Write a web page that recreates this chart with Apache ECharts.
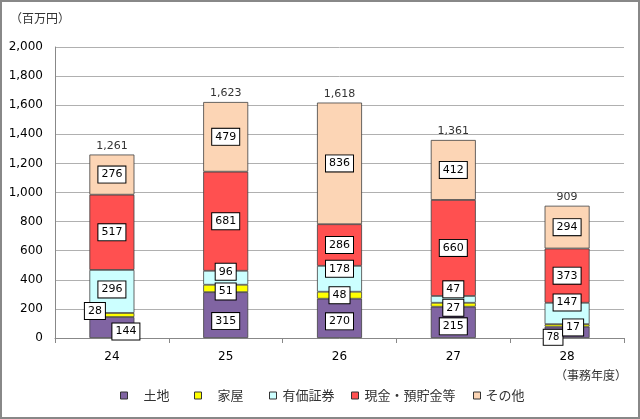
<!DOCTYPE html>
<html><head><meta charset="utf-8">
<script src="https://cdn.jsdelivr.net/npm/echarts@6/dist/echarts.min.js"></script>
<style>html,body{margin:0;padding:0;background:#fff}#c{width:640px;height:419px}</style>
</head><body><div id="c"></div>
<script>
var categories = ['24','25','26','27','28'];
var seriesNames = ['土地','家屋','有価証券','現金・預貯金等','その他'];
var land = [144,315,270,215,78];
var house = [28,51,48,27,17];
var securities = [296,96,178,47,147];
var cash = [517,681,286,660,373];
var other = [276,479,836,412,294];
var totals = [1261,1623,1618,1361,909];
var yTicks = [0,200,400,600,800,1000,1200,1400,1600,1800,2000];

var colors = ['#8064A2','#FFFF00','#CCFFFF','#FF5050','#FCD5B5'];
var values = [land, house, securities, cash, other];
// label offsets (style only)
var offsets = [
  [[14,4],[0,6],[0,3],[0,4],[-14,5]],
  [[-17,-4],[0,3],[0,0],[0,3],[6,2]],
  [[0,-2],[0,-6],[0,-10],[0,-10],[0,-11]],
  [[0,0],[0,0],[0,0],[0,0],[0,0]],
  [[0,0],[0,0],[0,0],[0,0],[0,0]]
];
var numFont = 'DejaVu Sans';
var jpFont = '"Noto Sans CJK JP"';
var series = values.map(function(arr, si){
  return {
    name: seriesNames[si], type:'bar', stack:'s', barWidth:45,
    itemStyle:{color:colors[si], borderColor:'#404040', borderWidth:0.8},
    data: arr.map(function(v, ci){
      return {value:v, label:{offset:offsets[si][ci], fontSize:(si===0&&ci===4)?10:11}};
    }),
    label:{show:true, position:'inside', color:'#000', fontFamily:numFont, fontSize:11,
      backgroundColor:'#fff', borderColor:'#000', borderWidth:1, padding:[3,3,2,3]},
    z:2
  };
});
series.push({
  name:'total', type:'bar', stack:'s', barWidth:45,
  data: totals.map(function(){return 0;}),
  itemStyle:{color:'transparent'},
  label:{show:true, position:'top', distance:3, color:'#333', fontFamily:numFont, fontSize:11,
    formatter:function(p){return totals[p.dataIndex].toLocaleString('en-US');}}
});
var legendPos = [[120,11],[194,11],[269,1],[351,1],[473,0]];
var legends = seriesNames.map(function(n,i){
  return {data:[{name:n, itemStyle:{color:colors[i], borderColor:'#333', borderWidth:1}}], left:legendPos[i][0], top:389, padding:0, icon:'rect', itemWidth:7, itemHeight:7,
    selectedMode:false,
    textStyle:{fontFamily:jpFont, fontSize:13, color:'#333', padding:[0,0,0,legendPos[i][1]]}};
});
var chart = echarts.init(document.getElementById('c'), null, {renderer:'canvas'});
chart.setOption({
  animation:false,
  grid:{left:55, right:16, top:47, bottom:81},
  legend: legends,
  xAxis:{type:'category', data:categories,
    axisLine:{lineStyle:{color:'#888'}}, axisTick:{show:true, length:5, lineStyle:{color:'#888'}},
    axisLabel:{color:'#000', fontFamily:numFont, fontSize:12, margin:13}},
  yAxis:{type:'value', min:0, max:2000, interval:200,
    axisLine:{show:true, lineStyle:{color:'#888'}}, axisTick:{show:false},
    splitLine:{lineStyle:{color:'#b0b0b0', width:1}},
    axisLabel:{color:'#000', fontFamily:numFont, fontSize:12, margin:12,
      formatter:function(v){return yTicks.indexOf(v)>=0 ? v.toLocaleString('en-US') : '';}}},
  series: series,
  graphic:[
    {type:'rect', shape:{x:1,y:1,width:638,height:417}, style:{fill:'none', stroke:'#888', lineWidth:2}, silent:true},
    {type:'text', left:10, top:12, style:{text:'（百万円）', font:'12px '+jpFont, fill:'#333'}},
    {type:'text', left:555, top:369, style:{text:'（事務年度）', font:'12px '+jpFont, fill:'#333'}}
  ]
});
</script></body></html>
